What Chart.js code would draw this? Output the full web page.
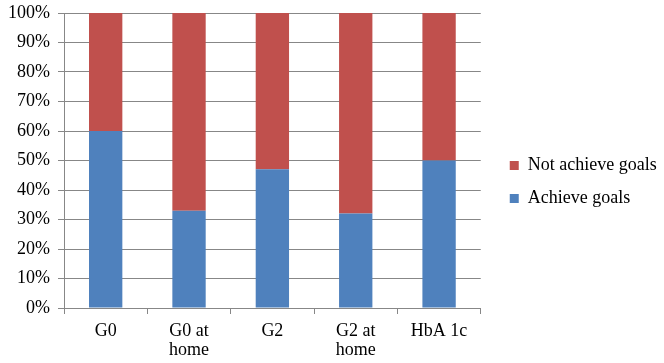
<!DOCTYPE html>
<html>
<head>
<meta charset="utf-8">
<script src="https://cdn.jsdelivr.net/npm/chart.js@4"></script>
<style>
  html, body { margin: 0; padding: 0; background: #fff; }
  #wrap { width: 664px; height: 363px; }
</style>
</head>
<body>
<div id="wrap"><canvas id="chart" width="664" height="363"></canvas></div>
<script>
// 分类与数据
const categories = ['G0', ['G0 at', 'home'], 'G2', ['G2 at', 'home'], 'HbA 1c'];
const achieveGoals = [60, 33, 47, 32, 50];
const notAchieveGoals = [40, 67, 53, 68, 50];
const yTicks = [0, 10, 20, 30, 40, 50, 60, 70, 80, 90, 100];

const gridColor = '#878787';
const family = "'Liberation Serif', 'Times New Roman', serif";

// 图例与图表区之间留出空隙（右边界放到画布边缘，避免文字被裁掉）
const legendGap = {
    id: 'legendGap',
    afterLayout(chart) {
        const lg = chart.legend;
        lg.left += 14;
        lg.right = chart.width;
        lg.top -= 6;
        lg.bottom -= 6;
    }
};

// 创建图表
new Chart(document.getElementById('chart').getContext('2d'), {
    type: 'bar',
    data: {
        labels: categories,
        datasets: [{
            label: 'Achieve goals',
            data: achieveGoals,
            backgroundColor: '#4F81BD',
            borderWidth: 0,
            barPercentage: 0.4,
            categoryPercentage: 1
        }, {
            label: 'Not achieve goals',
            data: notAchieveGoals,
            backgroundColor: '#C0504D',
            borderWidth: 0,
            barPercentage: 0.4,
            categoryPercentage: 1
        }]
    },
    options: {
        responsive: false,
        animation: false,
        layout: { padding: { top: 13, right: 23, bottom: 0, left: 0 } },
        scales: {
            x: {
                stacked: true,
                grid: { drawOnChartArea: false, drawTicks: true, tickLength: 6, color: gridColor, offset: true },
                border: { color: gridColor },
                ticks: { color: '#000', font: { family: family, size: 18, lineHeight: 1.1 }, padding: 7, maxRotation: 0 },
                afterFit: s => { s.height = 55; }
            },
            y: {
                stacked: true,
                min: 0,
                max: 100,
                afterBuildTicks: s => { s.ticks = yTicks.map(v => ({ value: v })); },
                grid: { color: gridColor, tickLength: 6 },
                border: { color: gridColor },
                ticks: { color: '#000', font: { family: family, size: 18, lineHeight: 0.5 }, padding: 8, callback: v => v + '%' },
                afterFit: s => { s.width = 64; }
            }
        },
        plugins: {
            legend: {
                position: 'right',
                reverse: true,
                labels: {
                    color: '#000',
                    font: { family: family, size: 18 },
                    boxWidth: 9,
                    boxHeight: 9,
                    padding: 15
                }
            },
            tooltip: { enabled: false }
        }
    },
    plugins: [legendGap]
});
</script>
</body>
</html>
